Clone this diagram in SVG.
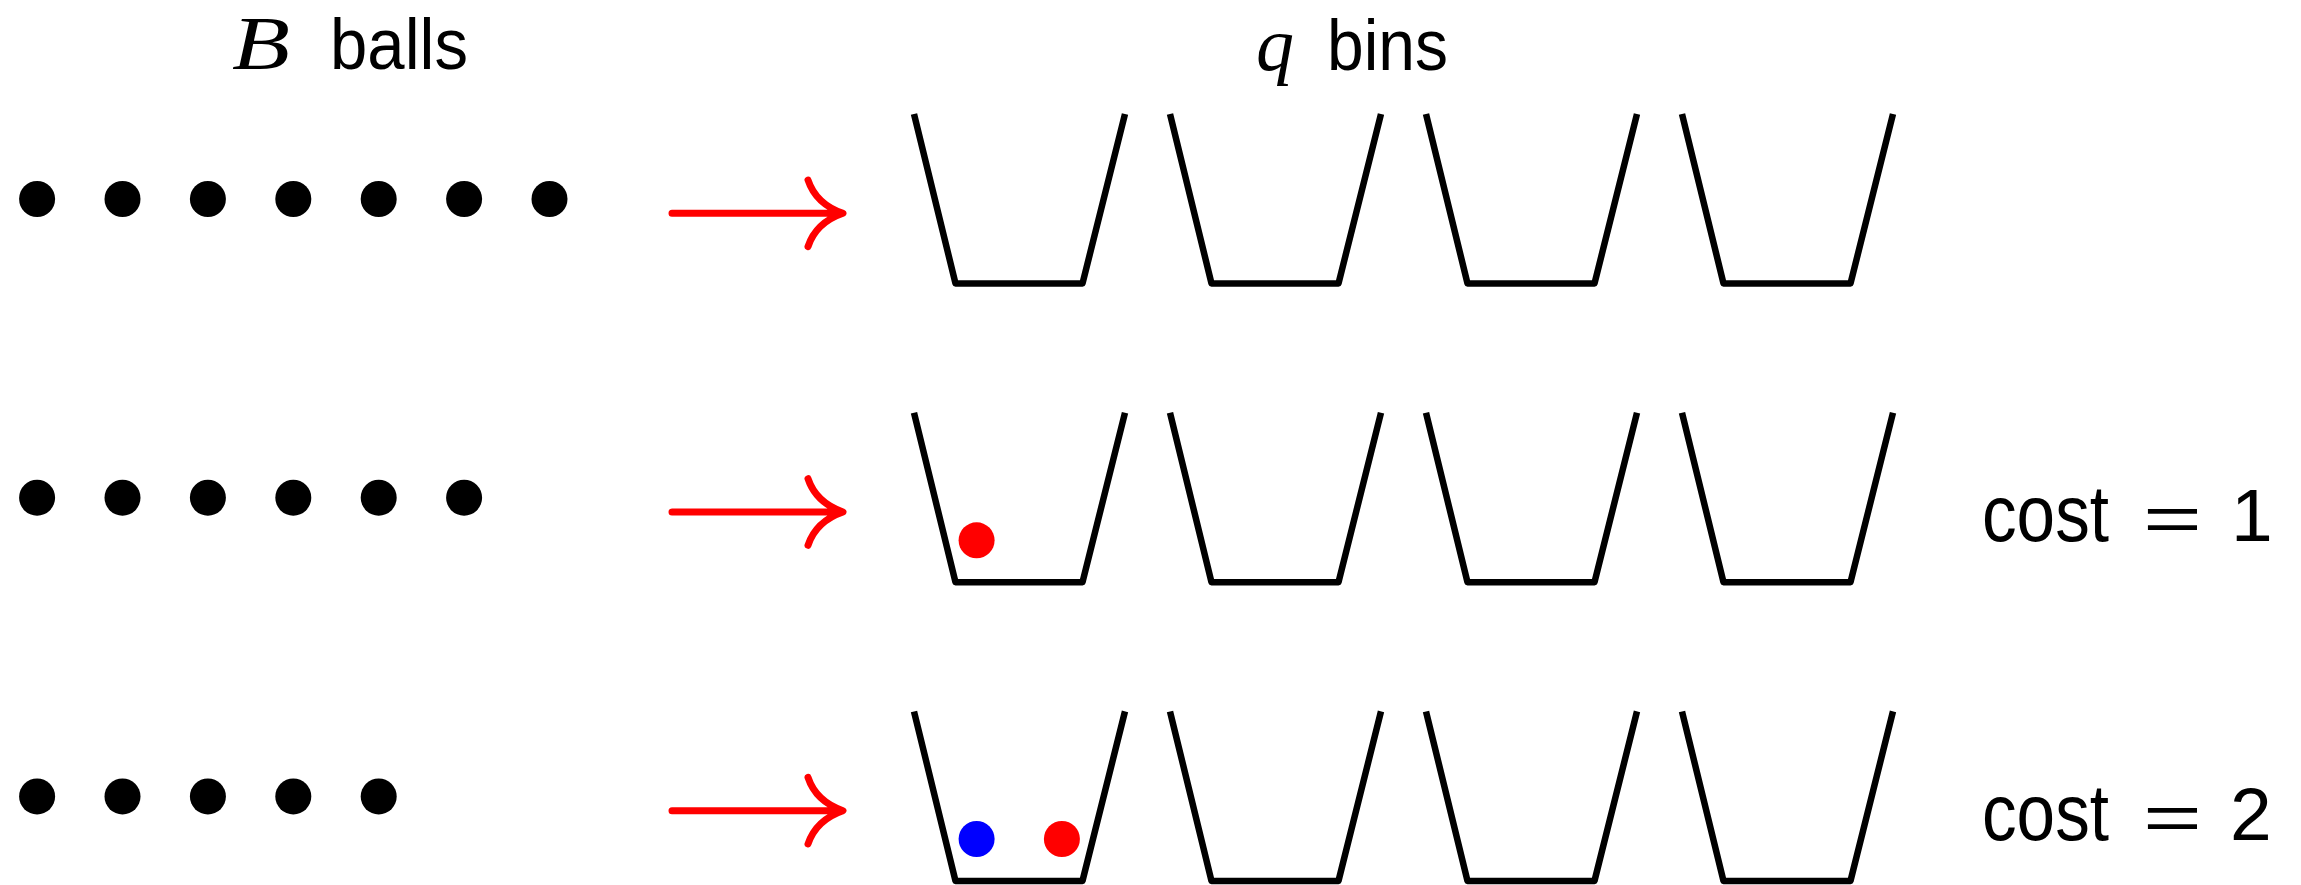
<svg xmlns="http://www.w3.org/2000/svg" width="2301" height="885" viewBox="0 0 2301 885">
<defs>
<style>
.dot{fill:#000}
.bin{fill:none;stroke:#000;stroke-width:6.5;stroke-linejoin:round;stroke-linecap:butt}
.arr{fill:none;stroke:#f00;stroke-width:7;stroke-linecap:round;stroke-linejoin:round}
.sans{font-family:"Liberation Sans",Arial,sans-serif;fill:#000}
.math{font-family:"Liberation Serif","Times New Roman",serif;font-style:italic;fill:#000}
</style>
<path id="binshape" class="bin" d="M914,114 L955.5,283.5 L1082.5,283.5 L1125,114"/>
<path id="arrowshape" class="arr" d="M672,213.3 L841,213.3 M808,180 Q816,204 843,213.3 Q816,222.6 808,246.6"/>
<g id="binrow">
<use href="#binshape"/>
<use href="#binshape" x="256"/>
<use href="#binshape" x="512"/>
<use href="#binshape" x="768"/>
</g>
</defs>

<g id="titles">
<text y="68.5" font-size="77"><tspan class="math" x="232" textLength="58" lengthAdjust="spacingAndGlyphs">B</tspan><tspan class="sans" x="330" font-size="72" textLength="138" lengthAdjust="spacingAndGlyphs">balls</tspan></text>
<text y="69.5" font-size="76"><tspan class="math" x="1256">q</tspan><tspan class="sans" x="1327" font-size="72" textLength="121" lengthAdjust="spacingAndGlyphs">bins</tspan></text>
</g>

<g id="row1">
<g id="balls1">
<circle class="dot" cx="37.1" cy="199" r="18"/>
<circle class="dot" cx="122.5" cy="199" r="18"/>
<circle class="dot" cx="207.9" cy="199" r="18"/>
<circle class="dot" cx="293.3" cy="199" r="18"/>
<circle class="dot" cx="378.7" cy="199" r="18"/>
<circle class="dot" cx="464.1" cy="199" r="18"/>
<circle class="dot" cx="549.5" cy="199" r="18"/>
</g>
<g id="bins1"><use href="#binrow"/></g>
</g>

<g id="row2" transform="translate(0,298.7)">
<g id="balls2">
<circle class="dot" cx="37.1" cy="199" r="18"/>
<circle class="dot" cx="122.5" cy="199" r="18"/>
<circle class="dot" cx="207.9" cy="199" r="18"/>
<circle class="dot" cx="293.3" cy="199" r="18"/>
<circle class="dot" cx="378.7" cy="199" r="18"/>
<circle class="dot" cx="464.1" cy="199" r="18"/>
</g>
<g id="bins2"><use href="#binrow"/><circle cx="976.6" cy="241.6" r="18" fill="#f00"/></g>
<text id="cost1" class="sans" y="242" font-size="80"><tspan x="1982" textLength="127" lengthAdjust="spacingAndGlyphs">cost</tspan><tspan x="2143" font-size="64" textLength="59" lengthAdjust="spacingAndGlyphs">=</tspan><tspan x="2231" font-size="75">1</tspan></text>
</g>

<g id="row3" transform="translate(0,597.4)">
<g id="balls3">
<circle class="dot" cx="37.1" cy="199" r="18"/>
<circle class="dot" cx="122.5" cy="199" r="18"/>
<circle class="dot" cx="207.9" cy="199" r="18"/>
<circle class="dot" cx="293.3" cy="199" r="18"/>
<circle class="dot" cx="378.7" cy="199" r="18"/>
</g>
<g id="bins3"><use href="#binrow"/><circle cx="976.6" cy="241.6" r="18" fill="#00f"/><circle cx="1061.9" cy="241.6" r="18" fill="#f00"/></g>
<text id="cost2" class="sans" y="242.6" font-size="80"><tspan x="1982" textLength="127" lengthAdjust="spacingAndGlyphs">cost</tspan><tspan x="2143" font-size="64" textLength="59" lengthAdjust="spacingAndGlyphs">=</tspan><tspan x="2230" font-size="75">2</tspan></text>
</g>

<g id="connectors">
<use href="#arrowshape"/>
<use href="#arrowshape" y="298.7"/>
<use href="#arrowshape" y="597.4"/>
</g>
</svg>
